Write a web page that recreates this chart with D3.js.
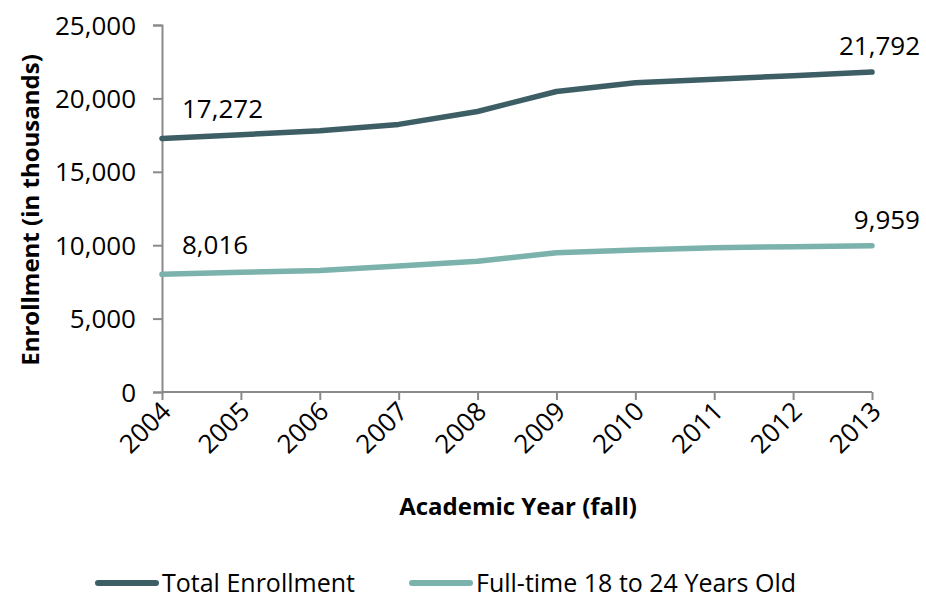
<!DOCTYPE html>
<html><head><meta charset="utf-8">
<script src="https://cdn.jsdelivr.net/npm/d3@7"></script>
<style>body{margin:0;background:#fff}svg{display:block}text{font-family:"Open Sans",sans-serif;fill:#000}</style>
</head><body>
<svg id="c" width="926" height="599"></svg>
<script>
const years = ["2004","2005","2006","2007","2008","2009","2010","2011","2012","2013"];
const totalEnrollment = [17272,17530,17800,18230,19110,20470,21060,21300,21550,21792];
const fullTime1824 = [8016,8150,8280,8580,8900,9480,9680,9830,9900,9959];
const yTicks = [0,5000,10000,15000,20000,25000];
const seriesNames = ["Total Enrollment","Full-time 18 to 24 Years Old"];
const colors = ["#3e5e65","#7bb2ac"];

const svg = d3.select("#c");
const x = d3.scalePoint().domain(years).range([162,872]);
const y = d3.scaleLinear().domain([0,25000]).range([392,25]);
const fmt = d3.format(",");
const axisColor = "#8a8a8a";

// y axis
const ya = svg.append("g").attr("transform","translate(162,0)")
  .call(d3.axisLeft(y).tickValues(yTicks).tickFormat(fmt).tickSize(9).tickPadding(17));
ya.select(".domain").attr("stroke",axisColor).attr("stroke-width",2);
ya.selectAll(".tick line").attr("stroke",axisColor).attr("stroke-width",2);
ya.selectAll(".tick text").style("font-size","26px").attr("fill","#000").attr("dy","0.35em");

// x axis
const xa = svg.append("g").attr("transform","translate(0,392)")
  .call(d3.axisBottom(x).tickSize(8).tickSizeOuter(0));
xa.select(".domain").attr("stroke",axisColor).attr("stroke-width",2).attr("d","M162,0H872");
xa.selectAll(".tick line").attr("stroke",axisColor).attr("stroke-width",2);
xa.selectAll(".tick text").style("font-size","26px").attr("fill","#000")
  .attr("text-anchor","end").attr("dy",null).attr("y",0)
  .attr("transform","translate(10,21) rotate(-45)");

// lines
const series = [totalEnrollment, fullTime1824];
const line = d3.line().x((d,i)=>x(years[i])).y(d=>y(d));
series.forEach((s,k)=>{
  svg.append("path").datum(s).attr("d",line).attr("fill","none")
    .attr("stroke",colors[k]).attr("stroke-width",5.5)
    .attr("stroke-linejoin","round").attr("stroke-linecap","round");
  const n = s.length-1;
  svg.append("text").attr("x",x(years[0])+20).attr("y",y(s[0])-20)
    .style("font-size","26px").text(fmt(s[0]));
  svg.append("text").attr("x",x(years[n])+48).attr("y",y(s[n])-17)
    .attr("text-anchor","end").style("font-size","26px").text(fmt(s[n]));
});

// axis titles
svg.append("text").attr("x",518).attr("y",515).attr("text-anchor","middle")
  .style("font-size","24px").style("font-weight","bold").text("Academic Year (fall)");
svg.append("text").attr("transform","translate(39,210) rotate(-90)").attr("text-anchor","middle")
  .style("font-size","24px").style("font-weight","bold").text("Enrollment (in thousands)");

// legend
const legX = [98,412];
seriesNames.forEach((nm,k)=>{
  const g = svg.append("g").attr("transform",`translate(${legX[k]},583)`);
  g.append("line").attr("x1",0).attr("x2",58).attr("y1",0).attr("y2",0)
    .attr("stroke",colors[k]).attr("stroke-width",6).attr("stroke-linecap","round");
  g.append("text").attr("x",64).attr("y",9).style("font-size","25px").text(nm);
});
</script>
</body></html>
